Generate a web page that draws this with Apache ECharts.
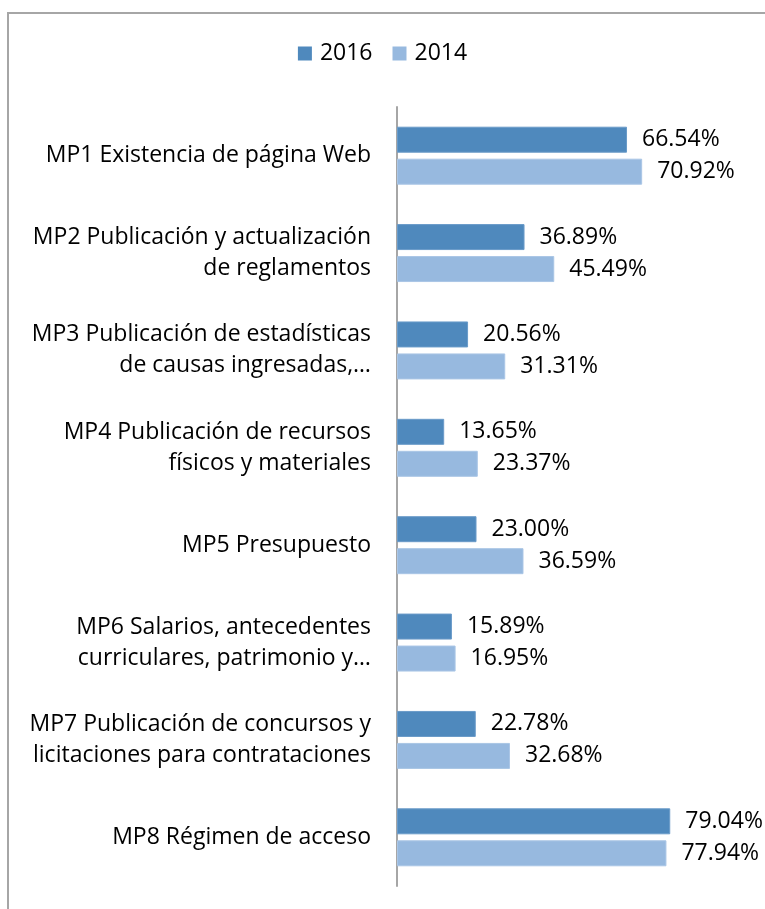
<!DOCTYPE html>
<html>
<head>
<meta charset="utf-8">
<script src="https://cdn.jsdelivr.net/npm/echarts@6/dist/echarts.min.js"></script>
<style>
  html, body { margin: 0; padding: 0; background: #fff; }
  #chart { width: 765px; height: 909px; }
</style>
</head>
<body>
<div id="chart"></div>
<script>
  // categories top to bottom
  var categories = [
    'MP1 Existencia de página Web',
    'MP2 Publicación y actualización\nde reglamentos',
    'MP3 Publicación de estadísticas\nde causas ingresadas,…',
    'MP4 Publicación de recursos\nfísicos y materiales',
    'MP5 Presupuesto',
    'MP6 Salarios, antecedentes\ncurriculares, patrimonio y…',
    'MP7 Publicación de concursos y\nlicitaciones para contrataciones',
    'MP8 Régimen de acceso'
  ];
  var values2016 = [66.54, 36.89, 20.56, 13.65, 23.00, 15.89, 22.78, 79.04];
  var values2014 = [70.92, 45.49, 31.31, 23.37, 36.59, 16.95, 32.68, 77.94];
  var seriesNames = ['2016', '2014'];

  var fontFam = '"Open Sans", "Noto Sans", sans-serif';
  var chart = echarts.init(document.getElementById('chart'));

  function labelFmt(p) {
    return p.value.toFixed(2) + '%';
  }

  chart.setOption({
    animation: false,
    legend: {
      top: 37,
      left: 'center',
      itemWidth: 14,
      itemHeight: 14,
      itemGap: 20,
      icon: 'rect',
      itemStyle: { borderWidth: 0 },
      textStyle: { fontFamily: fontFam, fontSize: 23, color: '#000', padding: [0, 0, 0, 3] },
      data: seriesNames
    },
    graphic: [{
      type: 'rect',
      shape: { x: 8, y: 13, width: 800, height: 950 },
      style: { fill: 'none', stroke: '#a6a6a6', lineWidth: 2 },
      silent: true
    }],
    grid: {
      left: 397,
      top: 107,
      width: 345.7,
      height: 779
    },
    xAxis: {
      type: 'value',
      min: 0,
      max: 100,
      show: false
    },
    yAxis: {
      type: 'category',
      inverse: true,
      data: categories,
      axisLine: { lineStyle: { color: '#a6a6a6', width: 2 } },
      axisTick: { show: false },
      axisLabel: {
        margin: 26,
        align: 'right',
        fontFamily: fontFam,
        fontSize: 23,
        lineHeight: 31,
        color: '#000'
      }
    },
    series: [
      {
        name: seriesNames[0],
        type: 'bar',
        data: values2016,
        barWidth: 26,
        barGap: '23%',
        itemStyle: { color: '#4f89bd', borderColor: '#6a9bc9', borderWidth: 1 },
        label: {
          show: true,
          position: 'right',
          distance: 15,
          formatter: labelFmt,
          fontFamily: fontFam,
          fontSize: 23,
          color: '#000'
        }
      },
      {
        name: seriesNames[1],
        type: 'bar',
        data: values2014,
        barWidth: 26,
        barGap: '23%',
        itemStyle: { color: '#97b9df', borderColor: '#aac6e6', borderWidth: 1 },
        label: {
          show: true,
          position: 'right',
          distance: 15,
          formatter: labelFmt,
          fontFamily: fontFam,
          fontSize: 23,
          color: '#000'
        }
      }
    ]
  });
</script>
</body>
</html>
